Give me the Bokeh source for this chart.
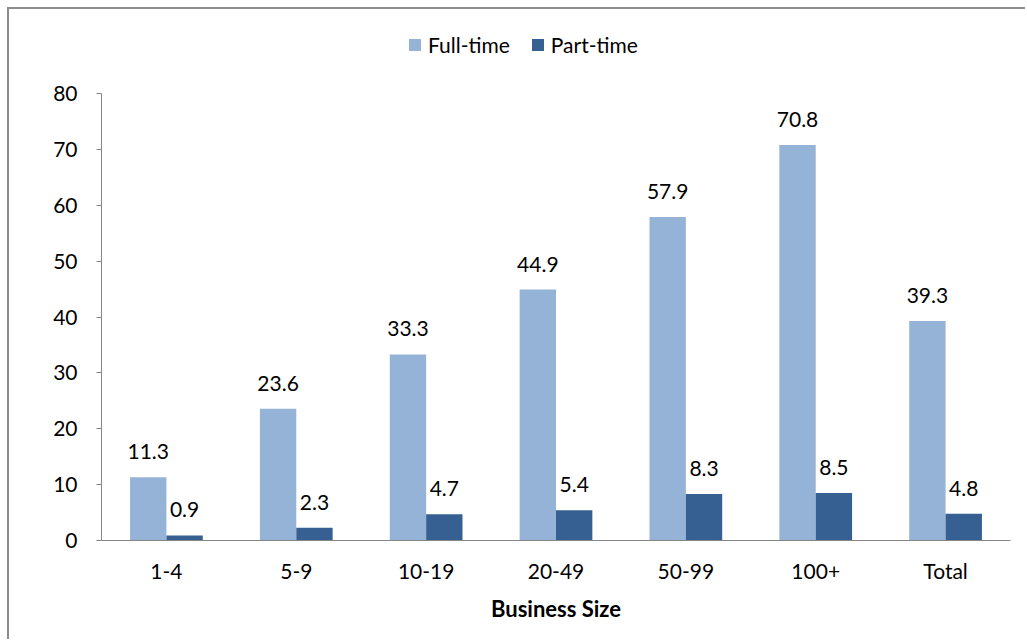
from bokeh.plotting import figure
from bokeh.models import ColumnDataSource, Legend, LegendItem, FactorRange, LabelSet, FixedTicker, Range1d
from bokeh.layouts import column
from bokeh.transform import dodge
from bokeh.core.properties import value
from bokeh.embed import file_html
from bokeh.resources import INLINE

categories = ["1-4", "5-9", "10-19", "20-49", "50-99", "100+", "Total"]
full_time = [11.3, 23.6, 33.3, 44.9, 57.9, 70.8, 39.3]
part_time = [0.9, 2.3, 4.7, 5.4, 8.3, 8.5, 4.8]
y_ticks = [0, 10, 20, 30, 40, 50, 60, 70, 80]
series_names = ["Full-time", "Part-time"]
series_colors = ["#95B3D7", "#376092"]

src = ColumnDataSource(dict(
    cat=categories, full=full_time, part=part_time,
    full_lbl=[f"{v:.1f}" for v in full_time],
    part_lbl=[f"{v:.1f}" for v in part_time],
))

FONT = "Lato"
FS = "21px"

# ---- legend strip (small figure above the chart; its bars lie far outside its view) ----
leg = figure(x_range=FactorRange(*categories), y_range=Range1d(1000, 1001),
             width=1016, height=60, output_backend="svg", toolbar_location=None,
             x_axis_location=None, y_axis_location=None,
             min_border_left=0, min_border_right=0, min_border_top=0, min_border_bottom=0)
leg.outline_line_color = None
leg.xgrid.grid_line_color = None
leg.ygrid.grid_line_color = None
leg_items = []
for name, col, color in zip(series_names, ["full", "part"], series_colors):
    r = leg.vbar(x="cat", top=col, width=0.28, source=src, fill_color=color, line_color=None)
    leg_items.append(LegendItem(label=name, renderers=[r]))
legend = Legend(items=leg_items, orientation="horizontal", location=(306, 12),
                glyph_width=15, glyph_height=15, label_standoff=6, spacing=20,
                padding=0, margin=0, border_line_color=None, background_fill_alpha=0,
                label_text_font=FONT, label_text_font_size=FS, label_text_color="#000000")
leg.add_layout(legend, "center")

# ---- main chart ----
p = figure(x_range=FactorRange(*categories), y_range=(0, 80),
           width=1016, height=570, output_backend="svg", toolbar_location=None,
           min_border_left=92, min_border_right=15, min_border_top=24, min_border_bottom=99)
p.outline_line_color = None
p.xgrid.grid_line_color = None
p.ygrid.grid_line_color = None
p.x_range.range_padding = 0

p.vbar(x=dodge("cat", -0.14, range=p.x_range), top="full", width=0.28, source=src,
       fill_color=series_colors[0], line_color=None)
p.vbar(x=dodge("cat", 0.14, range=p.x_range), top="part", width=0.28, source=src,
       fill_color=series_colors[1], line_color=None)

for col, lbl, off in (("full", "full_lbl", -0.14), ("part", "part_lbl", 0.14)):
    p.add_layout(LabelSet(x=dodge("cat", off, range=p.x_range), y=col, text=lbl, source=src,
                          text_align="center", text_baseline="alphabetic", y_offset=18,
                          text_font=value(FONT), text_font_size=value(FS),
                          text_color="#000000"))

p.yaxis.ticker = FixedTicker(ticks=y_ticks)
for ax in (p.xaxis[0], p.yaxis[0]):
    ax.axis_line_color = "#868686"
    ax.major_label_text_font = FONT
    ax.major_label_text_font_size = FS
    ax.major_label_text_color = "#000000"
    ax.minor_tick_line_color = None
p.yaxis.major_tick_line_color = "#868686"
p.yaxis.major_tick_out = 5
p.yaxis.major_tick_in = 0
p.yaxis.major_label_standoff = 19
p.xaxis.major_tick_line_color = None
p.xaxis.major_label_standoff = 11
p.xaxis.axis_label = "Business Size"
p.xaxis.axis_label_text_font = FONT
p.xaxis.axis_label_text_font_style = "bold"
p.xaxis.axis_label_text_font_size = "22px"
p.xaxis.axis_label_text_color = "#000000"
p.xaxis.axis_label_standoff = 9

root = column(leg, p, spacing=0)
root.styles = {"border-left": "2px solid #8c8c8c", "border-top": "2px solid #8c8c8c",
               "margin-left": "7px", "margin-top": "7px"}

open("out.html", "w").write(file_html(root, INLINE))
